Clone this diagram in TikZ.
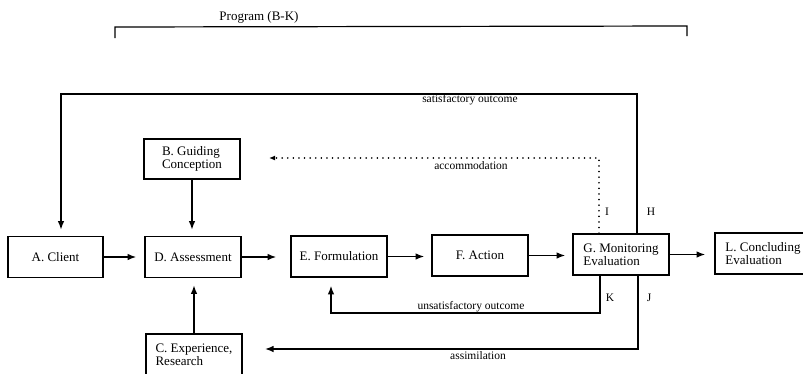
\documentclass[tikz,border=0pt]{standalone}
\usepackage{fontspec}
\setmainfont{Liberation Serif}
\usetikzlibrary{arrows.meta,calc}
\newcommand\bxfont{\fontsize{13}{13}\selectfont}
\newcommand\lbfont{\fontsize{11.5}{12}\selectfont}
\begin{document}
\begin{tikzpicture}[x=1pt,y=-1pt,
  box/.style={draw, line width=1.6pt, minimum width=96pt, minimum height=41pt,
    inner sep=0pt, align=left, font=\bxfont},
  lbl/.style={inner sep=0pt, font=\lbfont},
  conn/.style={line width=1.4pt},
  arr/.style={conn, -{Latex[length=8.5pt,width=6.5pt]}},
  dotarr/.style={line width=1.6pt, line cap=round, dash pattern=on 0.1pt off 5.5pt,
    -{Latex[length=6pt,width=5pt]}}]
\useasboundingbox (0,0) rectangle (803,373);
\clip (0,0) rectangle (803,373);

% boxes
\node[box, minimum width=95pt] (A) at (55.5,257) {A. Client};
\node[box] (D) at (193,257) {D. Assessment};
\node[box] (E) at (339,256.5) {E. Formulation};
\node[box] (F) at (480,255.5) {F. Action};
\node[box] (G) at (621,254.5) {G. Monitoring\\Evaluation};
\node[box] (L) at (763,253.5) {L. Concluding\\Evaluation};
\node[box, minimum height=40pt] (B) at (192,159) {B. Guiding\\Conception};
\node[box] (C) at (194,354.5) {C. Experience,\\Research};

% bracket and title
\node[inner sep=0pt, font=\fontsize{13}{13}\selectfont] (prog) at (259,17) {Program (B-K)};
\draw[line width=1.2pt] (115,38) -- (115,27) -- (687,26) -- (687,36);

% free-end coordinates
\coordinate (satL) at (61,94);
\coordinate (accTip) at (269,158);
\coordinate (kC) at (331,313);
\coordinate (jTip) at (265,349);

% main chain
\draw[arr, shorten >=8pt] (A.east) -- (A.east -| D.west);
\draw[arr, shorten >=14pt] (D.east) -- (D.east -| E.west);
\draw[arr, shorten >=7pt] (E.east) -- (E.east -| F.west);
\draw[arr, shorten >=7pt] (F.east) -- (F.east -| G.west);
\draw[arr, shorten >=9pt] (G.east) -- (G.east -| L.west);

% B and C into D
\draw[arr, shorten >=6pt] (B.south) -- (B.south |- D.north);
\draw[arr, shorten >=7pt] (C.north) -- (C.north |- D.south);

% feedback loops
\draw[arr, shorten >=6pt] ($(G.north)+(16,0)$) |- (satL) -- (satL |- A.north);
\draw[dotarr] ($(G.north)+(-22,0)$) |- (accTip);
\draw[arr, shorten >=8pt] ($(G.south)+(-21,0)$) |- (kC) -- (kC |- E.south);
\draw[arr] ($(G.south)+(17,0)$) |- (jTip);

% labels
\node[lbl] (lsat) at (470,100) {satisfactory outcome};
\node[lbl] (lacc) at (471,166) {accommodation};
\node[lbl] (lunsat) at (471,307) {unsatisfactory outcome};
\node[lbl] (lass) at (478,356) {assimilation};
\node[lbl] (lI) at (607,212) {I};
\node[lbl] (lH) at (651,212) {H};
\node[lbl] (lK) at (610,298) {K};
\node[lbl] (lJ) at (649,298) {J};
\end{tikzpicture}
\end{document}
